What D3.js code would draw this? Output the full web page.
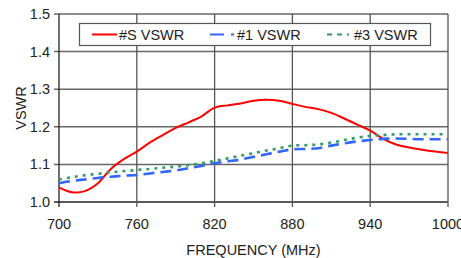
<!DOCTYPE html>
<html>
<head>
<meta charset="utf-8">
<script src="https://cdn.jsdelivr.net/npm/d3@7"></script>
<style>
  body { margin: 0; background: #fff; }
  text { font-family: "Liberation Sans", Arial, sans-serif; fill: #222; }
</style>
</head>
<body>
<div id="chart"></div>
<script>
const freqs = [700, 710, 720, 730, 740, 750, 760, 770, 780, 790, 800, 810, 820, 830, 840, 850,
               860, 870, 880, 890, 900, 910, 920, 930, 940, 950, 960, 970, 980, 990, 1000];
const vswrS = [1.039, 1.026, 1.029, 1.05, 1.088, 1.114, 1.134, 1.158, 1.178, 1.197, 1.212, 1.228,
               1.251, 1.257, 1.262, 1.269, 1.272, 1.269, 1.261, 1.253, 1.247, 1.237, 1.222, 1.206,
               1.19, 1.168, 1.153, 1.145, 1.139, 1.134, 1.13];
const vswr1 = [1.05, 1.056, 1.06, 1.064, 1.067, 1.07, 1.072, 1.076, 1.08, 1.084, 1.09, 1.096,
               1.103, 1.108, 1.113, 1.12, 1.127, 1.134, 1.14, 1.141, 1.143, 1.15, 1.156, 1.161,
               1.165, 1.168, 1.169, 1.168, 1.167, 1.167, 1.167];
const vswr3 = [1.06, 1.066, 1.071, 1.075, 1.079, 1.082, 1.085, 1.088, 1.091, 1.094, 1.098, 1.103,
               1.109, 1.116, 1.123, 1.13, 1.137, 1.143, 1.15, 1.151, 1.153, 1.158, 1.165, 1.171,
               1.176, 1.178, 1.18, 1.18, 1.18, 1.18, 1.18];
const xTicks = [700, 760, 820, 880, 940, 1000];
const yTicks = [1.0, 1.1, 1.2, 1.3, 1.4, 1.5];
const seriesNames = ["#S VSWR", "#1 VSWR", "#3 VSWR"];

const width = 461, height = 258;
const margin = { left: 59, right: 13, top: 14, bottom: 56 };

const svg = d3.select("#chart").append("svg")
    .attr("width", width)
    .attr("height", height);

const x = d3.scaleLinear().domain([700, 1000]).range([margin.left, width - margin.right]);
const y = d3.scaleLinear().domain([1.0, 1.5]).range([height - margin.bottom, margin.top]);

// grid
svg.append("g")
    .selectAll("line")
    .data(yTicks)
    .join("line")
    .attr("x1", x(700) - 5).attr("x2", x(1000))
    .attr("y1", d => y(d)).attr("y2", d => y(d))
    .attr("stroke", d => d == 1.0 ? "#222" : "#666")
    .attr("stroke-width", d => d == 1.0 || d == 1.5 ? 1.3 : 1.5);

svg.append("g")
    .selectAll("line")
    .data(xTicks)
    .join("line")
    .attr("x1", d => x(d)).attr("x2", d => x(d))
    .attr("y1", y(1.5)).attr("y2", y(1.0) + 5)
    .attr("stroke", d => d == 700 ? "#222" : "#555")
    .attr("stroke-width", 1.3);

// tick labels
svg.append("g")
    .selectAll("text")
    .data(yTicks)
    .join("text")
    .attr("x", x(700) - 9)
    .attr("y", d => y(d) + 5)
    .attr("text-anchor", "end")
    .style("font-size", "14.5px")
    .text(d => d.toFixed(1));

svg.append("g")
    .selectAll("text")
    .data(xTicks)
    .join("text")
    .attr("x", d => x(d))
    .attr("y", y(1.0) + 27)
    .attr("text-anchor", "middle")
    .style("font-size", "14.5px")
    .text(d => d);

svg.append("text")
    .attr("transform", "translate(" + 26 + "," + ((y(1.0) + y(1.5)) / 2) + ") rotate(-90)")
    .attr("text-anchor", "middle")
    .style("font-size", "14.5px")
    .text("VSWR");

svg.append("text")
    .attr("x", (x(700) + x(1000)) / 2)
    .attr("y", 255)
    .attr("text-anchor", "middle")
    .style("font-size", "14.5px")
    .text("FREQUENCY (MHz)");

// lines
const styles = [
    { color: "#ff0000", width: 2, dash: null, legendDash: null },
    { color: "#3366ff", width: 2.6, dash: "11,6", legendDash: "14,7,3,100" },
    { color: "#339966", width: 2.6, dash: "3,5", legendDash: "5,5,5,5,2,100" }
];
const allSeries = [vswrS, vswr1, vswr3];

const line = d3.line()
    .x((d, i) => x(freqs[i]))
    .y(d => y(d))
    .curve(d3.curveCatmullRom.alpha(0.5));

allSeries.forEach(function(s, k) {
    svg.append("path")
        .datum(s)
        .attr("fill", "none")
        .attr("stroke", styles[k].color)
        .attr("stroke-width", styles[k].width)
        .attr("stroke-dasharray", styles[k].dash)
        .attr("d", line);
});

// legend
const legend = svg.append("g");
legend.append("rect")
    .attr("x", 79.5).attr("y", 23.5)
    .attr("width", 351).attr("height", 22)
    .attr("fill", "#fff")
    .attr("stroke", "#555")
    .attr("stroke-width", 1.2);

const legendX = [92, 210, 327];
seriesNames.forEach(function(name, k) {
    legend.append("line")
        .attr("x1", legendX[k]).attr("x2", legendX[k] + 25)
        .attr("y1", 34.5).attr("y2", 34.5)
        .attr("stroke", styles[k].color)
        .attr("stroke-width", k == 0 ? 2 : 2.2)
        .attr("stroke-dasharray", styles[k].legendDash);
    legend.append("text")
        .attr("x", legendX[k] + 27)
        .attr("y", 40)
        .style("font-size", "14.5px")
        .text(name);
});
</script>
</body>
</html>
